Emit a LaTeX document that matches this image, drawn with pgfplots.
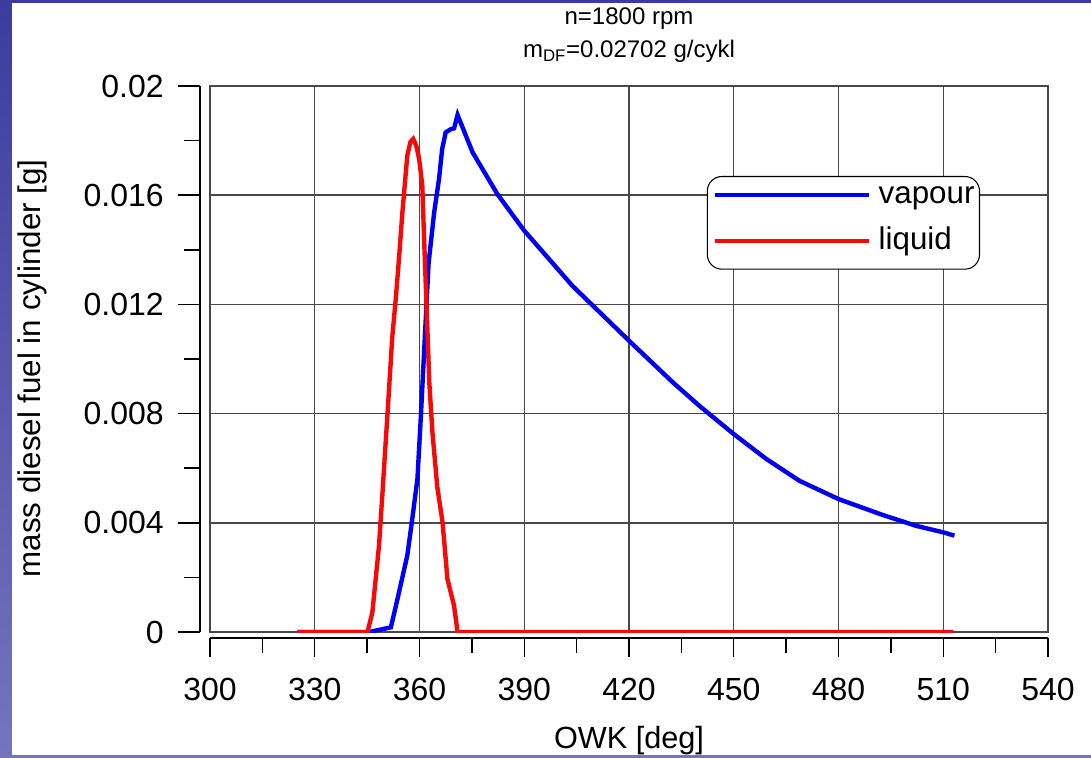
\documentclass[border=0pt]{standalone}
\usepackage{fontspec}
\setmainfont{Liberation Sans}
\usepackage{pgfplots}
\pgfplotsset{compat=1.18}
\definecolor{bgtop}{HTML}{3C3C9E}
\definecolor{bgbot}{HTML}{7474BE}
\definecolor{gridc}{HTML}{484848}
\definecolor{vap}{HTML}{0000F5}
\definecolor{liq}{HTML}{F50A0A}

\begin{document}
\begin{tikzpicture}
\shade[top color=bgtop, bottom color=bgbot] (0,0) rectangle (818.25pt,567.75pt);
\fill[white] (9pt,1.5pt) rectangle (818.25pt,565.5pt);
\useasboundingbox (0,0) rectangle (818.25pt,567.75pt);

% main box, grid, data, legend, title
\begin{axis}[
  at={(157.5pt,93.75pt)}, anchor=south west, scale only axis,
  width=628.5pt, height=409.5pt,
  xmin=300, xmax=540, ymin=0, ymax=0.02,
  xtick={300,330,...,540}, ytick={0,0.004,0.008,0.012,0.016,0.02},
  xticklabels={}, yticklabels={},
  scaled y ticks=false, scaled x ticks=false,
  major tick length=0pt, minor tick length=0pt,
  grid=major, major grid style={gridc, line width=1.1pt},
  axis line style={gridc, line width=1.1pt},
  title={n=1800 rpm\\m\textsubscript{DF}=0.02702 g/cykl},
  title style={align=center, font=\fontsize{18}{24.75}\selectfont, anchor=south, at={(0.5,1)}, yshift=11.25pt, inner sep=0pt},
  legend cell align=left,
  legend image code/.code={\draw[#1] (0pt,6pt) -- (115.5pt,6pt);},
  legend style={at={(0.9189,0.8352)}, anchor=north east, draw=black, line width=0.8pt,
    rounded corners=11pt, fill=white, font=\fontsize{23.5}{28}\selectfont,
    inner xsep=3.75pt, inner ysep=6pt, row sep=11.5pt, column sep=6pt,
    nodes={inner sep=0pt, text height=14pt, text depth=9pt, anchor=base west}},
]
\addplot[vap, line width=3.3pt] coordinates {
(325,0) (345.6,0) (351.8,0.00017) (353.7,0.00121) (356.5,0.0028) (357.8,0.00402)
(359.4,0.0056) (360.4,0.00792) (361.6,0.01098) (362.6,0.0135) (364.2,0.01537)
(365.6,0.0166) (366.5,0.0177) (367.5,0.0183) (369.0,0.01842) (369.9,0.01845)
(370.9,0.01894) (375.2,0.01757) (382.3,0.01604) (390.0,0.0147) (403.8,0.01268)
(420.0,0.01067) (432.5,0.00915) (440.1,0.00829) (450,0.00725) (459.3,0.00634)
(468.8,0.00554) (480,0.00487) (492.6,0.00429) (502.2,0.00389) (510,0.00365) (513.2,0.00353)
};
\addlegendentry{vapour}
\addplot[liq, line width=3.3pt] coordinates {
(325,0) (345.1,0) (346.5,0.00072) (348.4,0.00316) (349.4,0.0051) (350.8,0.00792)
(352.2,0.0108) (353.2,0.0122) (354.2,0.0138) (355.1,0.01537) (356.5,0.01745) (357.4,0.01795) (358.2,0.01806)
(359.1,0.01780) (359.9,0.01733) (360.8,0.01635) (361.4,0.0141) (362.0,0.01201) (362.8,0.00915)
(363.7,0.00732) (365.1,0.0053) (366.6,0.00402) (368.0,0.00194) (369.9,0.00096)
(370.9,0) (513,0)
};
\addlegendentry{liquid}
\end{axis}

% offset y axis
\begin{axis}[
  at={(150pt,93.75pt)}, anchor=south west, scale only axis,
  width=10pt, height=409.5pt,
  xmin=0, xmax=1, ymin=0, ymax=0.02,
  axis x line=none, axis y line*=left,
  ytick={0,0.004,0.008,0.012,0.016,0.02},
  minor ytick={0.002,0.006,0.01,0.014,0.018},
  tick align=outside, major tick length=16.5pt, minor tick length=12pt,
  every tick/.style={black, line width=1.1pt},
  axis line style={black, line width=1.1pt},
  scaled y ticks=false,
  yticklabel style={anchor=east, inner sep=0pt, xshift=-10.5pt, font=\fontsize{24}{28}\selectfont},
  /pgf/number format/fixed, /pgf/number format/precision=3,
  /pgf/number format/assume math mode=true,
  ylabel={mass diesel fuel in cylinder [g]},
  every axis y label/.style={at={(rel axis cs:0,0.5)}, anchor=center, xshift=-126pt, yshift=-7pt, rotate=90,
    font=\fontsize{23.5}{28}\selectfont},
]
\end{axis}

% offset x axis
\begin{axis}[
  at={(157.5pt,89.25pt)}, anchor=south west, scale only axis,
  width=628.5pt, height=1pt,
  xmin=300, xmax=540, ymin=0, ymax=1,
  axis y line=none, axis x line*=bottom,
  xtick={300,330,...,540}, minor x tick num=1,
  tick align=outside, major tick length=14.25pt, minor tick length=11.25pt,
  every tick/.style={black, line width=1.1pt},
  axis line style={black, line width=1.1pt},
  scaled x ticks=false,
  xticklabel style={anchor=north, inner sep=0pt, yshift=-16pt, font=\fontsize{24}{28}\selectfont},
  /pgf/number format/assume math mode=true,
  xlabel={OWK [deg]},
  every axis x label/.style={at={(rel axis cs:0.5,0)}, anchor=center, yshift=-77pt,
    font=\fontsize{23}{27}\selectfont},
]
\end{axis}
\end{tikzpicture}
\end{document}
